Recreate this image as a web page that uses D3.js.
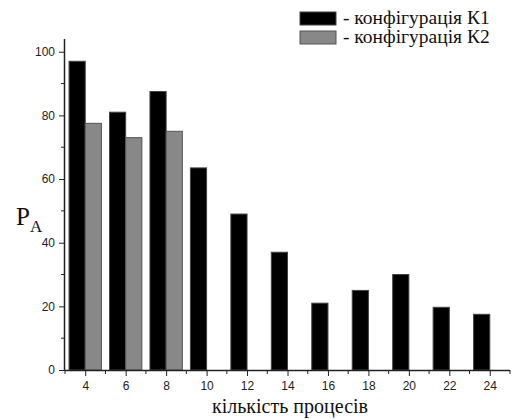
<!DOCTYPE html>
<html>
<head>
<meta charset="utf-8">
<script src="https://cdn.jsdelivr.net/npm/d3@7"></script>
<style>
  body { margin: 0; background: #fff; }
</style>
</head>
<body>
<div id="container"></div>
<script>
// data
const processes = [4, 6, 8, 10, 12, 14, 16, 18, 20, 22, 24];
const k1Values = [97, 81, 87.5, 63.5, 49, 37, 21, 25, 30, 19.7, 17.5];
const k2Processes = [4, 6, 8];
const k2Values = [77.5, 73, 75];
const xTicks = [4, 6, 8, 10, 12, 14, 16, 18, 20, 22, 24];
const yTicks = [0, 20, 40, 60, 80, 100];
const seriesNames = ["- конфігурація К1", "- конфігурація К2"];

const width = 513, height = 419;
const margin = { left: 65, right: 510, top: 39, bottom: 370 };
const barW = 0.8;

const svg = d3.select("#container")
  .append("svg")
  .attr("width", width)
  .attr("height", height);

const x = d3.scaleLinear().domain([3, 25]).range([margin.left, margin.right]);
const y = d3.scaleLinear().domain([0, 104]).range([margin.bottom, margin.top]);

// bars K1 (left of the tick), K2 (right of the tick)
svg.append("g").selectAll("rect")
  .data(processes.map((p, i) => ({ p, v: k1Values[i] })))
  .join("rect")
  .attr("x", d => x(d.p - barW))
  .attr("y", d => y(d.v))
  .attr("width", d => x(d.p) - x(d.p - barW))
  .attr("height", d => y(0) - y(d.v))
  .attr("fill", "#000")
  .attr("stroke", "#444")
  .attr("stroke-width", 1);

svg.append("g").selectAll("rect")
  .data(k2Processes.map((p, i) => ({ p, v: k2Values[i] })))
  .join("rect")
  .attr("x", d => x(d.p))
  .attr("y", d => y(d.v))
  .attr("width", d => x(d.p + barW) - x(d.p))
  .attr("height", d => y(0) - y(d.v))
  .attr("fill", "#888")
  .attr("stroke", "#555")
  .attr("stroke-width", 1);

// axes
const xMinor = d3.range(3, 26, 2);
const yMinor = d3.range(10, 104, 20);

const xAxis = svg.append("g")
  .attr("transform", `translate(0,${margin.bottom})`)
  .call(d3.axisBottom(x).tickValues(xTicks).tickSize(6).tickPadding(5).tickFormat(d3.format("d")));
xAxis.select(".domain").attr("d", `M${margin.left},0.5H${margin.right}`).attr("stroke", "#222").attr("stroke-width", 1.5);

svg.append("g")
  .attr("transform", `translate(0,${margin.bottom})`)
  .selectAll("line")
  .data(xMinor)
  .join("line")
  .attr("x1", d => x(d)).attr("x2", d => x(d))
  .attr("y1", 0).attr("y2", 4)
  .attr("stroke", "#222");

const yAxis = svg.append("g")
  .attr("transform", `translate(${margin.left},0)`)
  .call(d3.axisLeft(y).tickValues(yTicks).tickSize(6).tickPadding(4));
yAxis.select(".domain").attr("d", `M-0.5,${margin.top}V${margin.bottom}`).attr("stroke", "#222").attr("stroke-width", 1.5);

svg.append("g")
  .attr("transform", `translate(${margin.left},0)`)
  .selectAll("line")
  .data(yMinor)
  .join("line")
  .attr("y1", d => y(d)).attr("y2", d => y(d))
  .attr("x1", 0).attr("x2", -4)
  .attr("stroke", "#222");

svg.selectAll(".tick text")
  .style("font-family", "Liberation Sans, Arial, sans-serif")
  .style("font-size", "12px")
  .attr("fill", "#222");
svg.selectAll(".tick line").attr("stroke", "#222");

// axis titles
svg.append("text")
  .attr("x", 290)
  .attr("y", 413)
  .attr("text-anchor", "middle")
  .style("font-family", "Liberation Serif, Times New Roman, serif")
  .style("font-size", "20px")
  .attr("fill", "#111")
  .text("кількість процесів");

const pa = svg.append("text")
  .attr("x", 16)
  .attr("y", 225)
  .style("font-family", "Liberation Serif, Times New Roman, serif")
  .attr("fill", "#111");
pa.append("tspan").style("font-size", "25px").text("P");
pa.append("tspan").attr("dy", 7).style("font-size", "17px").text("A");

// legend
const legend = svg.append("g");
const legendFill = ["#000", "#888"];
const legendStroke = ["#444", "#555"];
seriesNames.forEach((name, i) => {
  const g = legend.append("g").attr("transform", `translate(300,${12 + i * 19})`);
  g.append("rect")
    .attr("width", 36).attr("height", 13)
    .attr("fill", legendFill[i])
    .attr("stroke", legendStroke[i]);
  g.append("text")
    .attr("x", 43)
    .attr("y", 12)
    .style("font-family", "Liberation Serif, Times New Roman, serif")
    .style("font-size", "19.5px")
    .attr("fill", "#111")
    .text(name);
});
</script>
</body>
</html>
